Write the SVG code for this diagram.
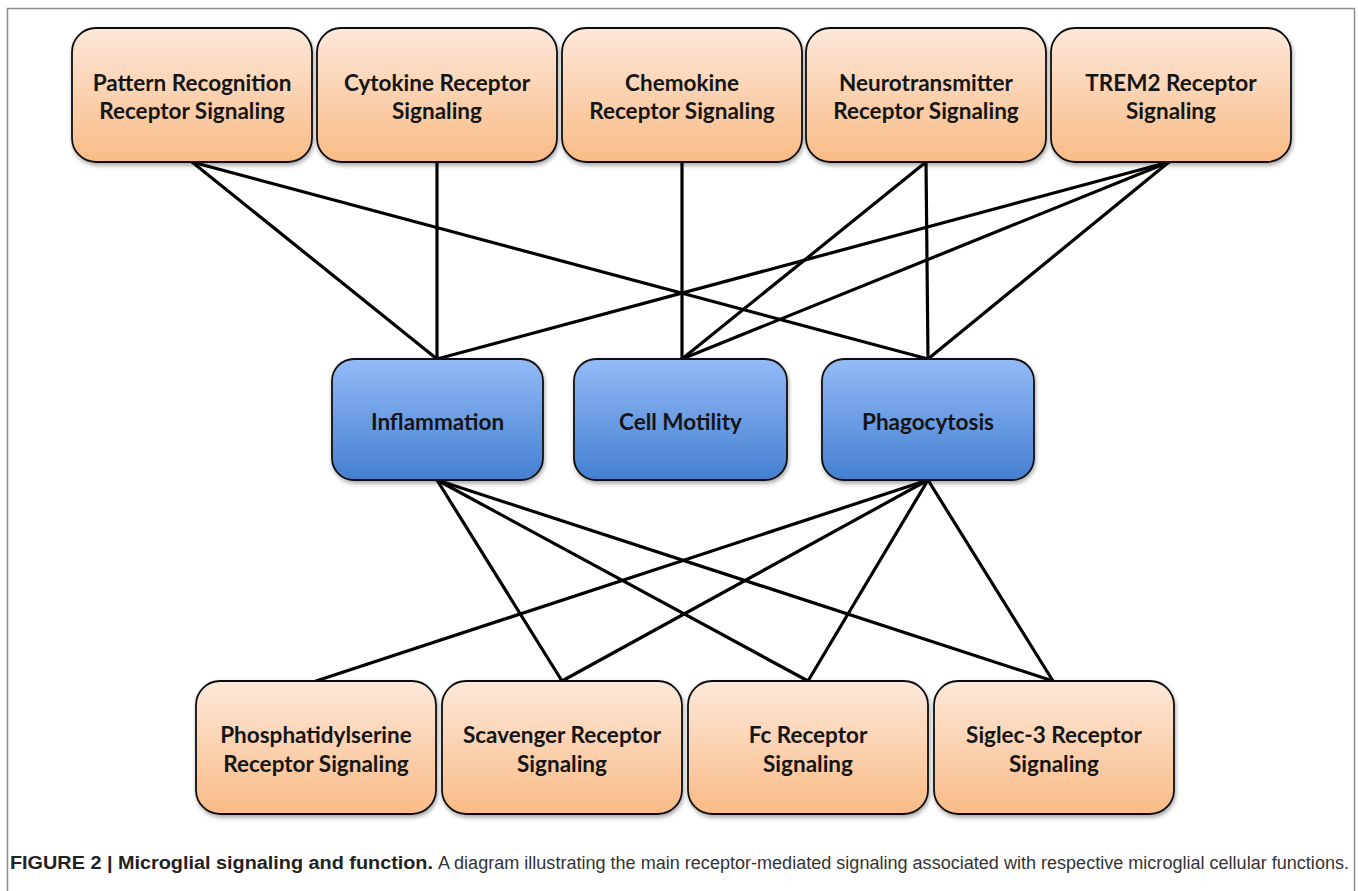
<svg xmlns="http://www.w3.org/2000/svg" width="1358" height="891" viewBox="0 0 1358 891">
  <defs>
    <linearGradient id="gOrange" x1="0" y1="0" x2="0" y2="1">
      <stop offset="0" stop-color="#fde8da"/>
      <stop offset="1" stop-color="#f9bb86"/>
    </linearGradient>
    <linearGradient id="gBlue" x1="0" y1="0" x2="0" y2="1">
      <stop offset="0" stop-color="#93bbf7"/>
      <stop offset="1" stop-color="#447fd1"/>
    </linearGradient>
    <filter id="shadow" x="-10%" y="-10%" width="120%" height="130%">
      <feDropShadow dx="1" dy="2.5" stdDeviation="2" flood-color="#000" flood-opacity="0.35"/>
    </filter>
  </defs>
  <style>
    .frame { fill: none; stroke: #8a8a8a; stroke-width: 1.5; }
    .orange { fill: url(#gOrange); stroke: #111; stroke-width: 1.8; filter: url(#shadow); }
    .blue { fill: url(#gBlue); stroke: #111; stroke-width: 1.8; filter: url(#shadow); }
    .lbl { font-family: Lato, "Open Sans", "Liberation Sans", sans-serif; font-weight: bold; font-size: 22.5px; fill: #151515; text-anchor: middle; }
    .conn line { stroke: #000; stroke-width: 3.2; stroke-linecap: round; }
    .cap { font-family: "Liberation Sans", Arial, sans-serif; font-size: 18px; }
    .capb { font-weight: bold; fill: #222; }
    .capr { fill: #333; }
  </style>

  <rect width="1358" height="891" fill="#fff"/>
  <rect class="frame" x="7.5" y="8.5" width="1347" height="900"/>

  <g id="connectors" class="conn">
    <line x1="192" y1="162" x2="437" y2="359"/>
    <line x1="192" y1="162" x2="928" y2="359"/>
    <line x1="437" y1="162" x2="437" y2="359"/>
    <line x1="682" y1="162" x2="682" y2="359"/>
    <line x1="926" y1="162" x2="682" y2="359"/>
    <line x1="926" y1="162" x2="928" y2="359"/>
    <line x1="1169" y1="162" x2="437" y2="359"/>
    <line x1="1169" y1="162" x2="682" y2="359"/>
    <line x1="1169" y1="162" x2="928" y2="359"/>
    <line x1="437" y1="480" x2="562" y2="681"/>
    <line x1="437" y1="480" x2="808" y2="681"/>
    <line x1="437" y1="480" x2="1053" y2="681"/>
    <line x1="928" y1="480" x2="316" y2="681"/>
    <line x1="928" y1="480" x2="562" y2="681"/>
    <line x1="928" y1="480" x2="808" y2="681"/>
    <line x1="928" y1="480" x2="1053" y2="681"/>
  </g>

  <g id="prr">
    <rect class="orange" x="72" y="28" width="240" height="134" rx="24"/>
    <text class="lbl" x="192" y="91">Pattern Recognition</text>
    <text class="lbl" x="192" y="119">Receptor Signaling</text>
  </g>
  <g id="cytokine">
    <rect class="orange" x="317" y="28" width="240" height="134" rx="24"/>
    <text class="lbl" x="437" y="91">Cytokine Receptor</text>
    <text class="lbl" x="437" y="119">Signaling</text>
  </g>
  <g id="chemokine">
    <rect class="orange" x="562" y="28" width="240" height="134" rx="24"/>
    <text class="lbl" x="682" y="91">Chemokine</text>
    <text class="lbl" x="682" y="119">Receptor Signaling</text>
  </g>
  <g id="neurotransmitter">
    <rect class="orange" x="806" y="28" width="240" height="134" rx="24"/>
    <text class="lbl" x="926" y="91">Neurotransmitter</text>
    <text class="lbl" x="926" y="119">Receptor Signaling</text>
  </g>
  <g id="trem2">
    <rect class="orange" x="1051" y="28" width="240" height="134" rx="24"/>
    <text class="lbl" x="1171" y="91">TREM2 Receptor</text>
    <text class="lbl" x="1171" y="119">Signaling</text>
  </g>

  <g id="inflammation">
    <rect class="blue" x="332" y="359" width="211" height="121" rx="22"/>
    <text class="lbl" x="437.5" y="430">Inflammation</text>
  </g>
  <g id="cellmotility">
    <rect class="blue" x="574" y="359" width="213" height="121" rx="22"/>
    <text class="lbl" x="680.5" y="430">Cell Motility</text>
  </g>
  <g id="phagocytosis">
    <rect class="blue" x="822" y="359" width="212" height="121" rx="22"/>
    <text class="lbl" x="928" y="430">Phagocytosis</text>
  </g>

  <g id="phosphatidylserine">
    <rect class="orange" x="196" y="681" width="240" height="133" rx="24"/>
    <text class="lbl" x="316" y="743">Phosphatidylserine</text>
    <text class="lbl" x="316" y="772">Receptor Signaling</text>
  </g>
  <g id="scavenger">
    <rect class="orange" x="442" y="681" width="240" height="133" rx="24"/>
    <text class="lbl" x="562" y="743">Scavenger Receptor</text>
    <text class="lbl" x="562" y="772">Signaling</text>
  </g>
  <g id="fc">
    <rect class="orange" x="688" y="681" width="240" height="133" rx="24"/>
    <text class="lbl" x="808" y="743">Fc Receptor</text>
    <text class="lbl" x="808" y="772">Signaling</text>
  </g>
  <g id="siglec3">
    <rect class="orange" x="934" y="681" width="240" height="133" rx="24"/>
    <text class="lbl" x="1054" y="743">Siglec-3 Receptor</text>
    <text class="lbl" x="1054" y="772">Signaling</text>
  </g>

  <g id="caption">
    <text class="cap capb" x="10" y="869" textLength="423" lengthAdjust="spacingAndGlyphs">FIGURE 2 | Microglial signaling and function.</text>
    <text class="cap capr" x="438" y="869" textLength="911" lengthAdjust="spacingAndGlyphs">A diagram illustrating the main receptor-mediated signaling associated with respective microglial cellular functions.</text>
  </g>
</svg>
